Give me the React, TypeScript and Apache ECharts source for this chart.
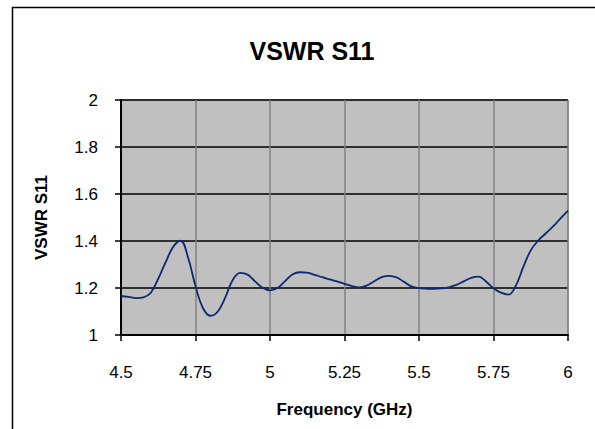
import React, { useEffect, useRef } from "react";
import * as echarts from "echarts";

const chartTitle = "VSWR S11";
const xAxisTitle = "Frequency (GHz)";
const yAxisTitle = "VSWR S11";

const frequency = [
  4.5, 4.525, 4.55, 4.575, 4.6, 4.625, 4.65, 4.675, 4.7, 4.725, 4.75,
  4.775, 4.8, 4.825, 4.85, 4.875, 4.9, 4.925, 4.95, 4.975, 5.0, 5.025, 5.05,
  5.075, 5.1, 5.125, 5.15, 5.175, 5.2, 5.225, 5.25, 5.275, 5.3, 5.325, 5.35,
  5.375, 5.4, 5.425, 5.45, 5.475, 5.5, 5.525, 5.55, 5.575, 5.6, 5.625, 5.65,
  5.675, 5.7, 5.725, 5.75, 5.775, 5.8, 5.825, 5.85, 5.875, 5.9,
  5.925, 5.95, 5.975, 6.0,
];
const vswr = [
  1.166, 1.162, 1.157, 1.16, 1.18, 1.24, 1.31, 1.375, 1.401, 1.33,
  1.208, 1.115, 1.082, 1.1, 1.16, 1.234, 1.264, 1.257, 1.228, 1.201, 1.19, 1.2,
  1.228, 1.257, 1.267, 1.265, 1.256, 1.246, 1.237, 1.228, 1.218, 1.208, 1.203,
  1.211, 1.229, 1.246, 1.252, 1.245, 1.226, 1.207, 1.199, 1.197, 1.196, 1.198,
  1.203, 1.213, 1.228, 1.243, 1.248, 1.228, 1.199, 1.18, 1.172,
  1.21, 1.29, 1.36, 1.402, 1.432, 1.462, 1.496, 1.529,
];

export default function App() {
  const ref = useRef<HTMLDivElement>(null);
  useEffect(() => {
    if (!ref.current) return;
    const chart = echarts.init(ref.current, undefined, { renderer: "svg" });
    const font = "'Liberation Sans', Arial, sans-serif";
    chart.setOption({
      animation: false,
      backgroundColor: "#ffffff",
      title: {
        text: chartTitle,
        left: 307,
        top: 33,
        textAlign: "center",
        textStyle: { fontFamily: font, fontSize: 25, fontWeight: "bold", color: "#000" },
      },
      graphic: [
        {
          type: "rect",
          shape: { x: 12.5, y: 7.5, width: 700, height: 600 },
          style: { fill: "none", stroke: "#000", lineWidth: 1.5 },
          silent: true,
        },
      ],
      grid: {
        left: 121,
        right: 27,
        top: 100,
        bottom: 94,
        show: true,
        backgroundColor: "#C0C0C0",
        borderColor: "#808080",
        borderWidth: 1,
      },
      xAxis: {
        type: "value",
        min: 4.5,
        max: 6,
        interval: 0.25,
        name: xAxisTitle,
        nameLocation: "middle",
        nameGap: 66,
        nameTextStyle: { fontFamily: font, fontSize: 17, fontWeight: "bold", color: "#000" },
        axisLine: { show: true, onZero: false, lineStyle: { color: "#000", width: 2 } },
        axisTick: { show: true, inside: false, length: 6, lineStyle: { color: "#000", width: 1.5 } },
        axisLabel: { margin: 29, fontFamily: font, fontSize: 17, color: "#000" },
        splitLine: { show: true, lineStyle: { color: "#808080", width: 1.5 } },
      },
      yAxis: {
        type: "value",
        min: 1,
        max: 2,
        interval: 0.2,
        name: yAxisTitle,
        nameLocation: "middle",
        nameGap: 71,
        nameRotate: 90,
        nameTextStyle: { fontFamily: font, fontSize: 17, fontWeight: "bold", color: "#000" },
        axisLine: { show: true, onZero: false, lineStyle: { color: "#000", width: 2 } },
        axisTick: { show: true, inside: false, length: 6, lineStyle: { color: "#000", width: 1.5 } },
        axisLabel: { margin: 23, fontFamily: font, fontSize: 17, color: "#000" },
        splitLine: { show: true, lineStyle: { color: "#000", width: 1.5 } },
      },
      series: [
        {
          type: "line",
          data: frequency.map((f, i) => [f, vswr[i]]),
          smooth: 0.4,
          showSymbol: false,
          lineStyle: { color: "#0B2A6F", width: 1.8 },
          z: 5,
        },
      ],
    });
    return () => chart.dispose();
  }, []);
  return (
    <div
      ref={ref}
      style={{ position: "fixed", left: 0, top: 0, width: 595, height: 429 }}
    />
  );
}
